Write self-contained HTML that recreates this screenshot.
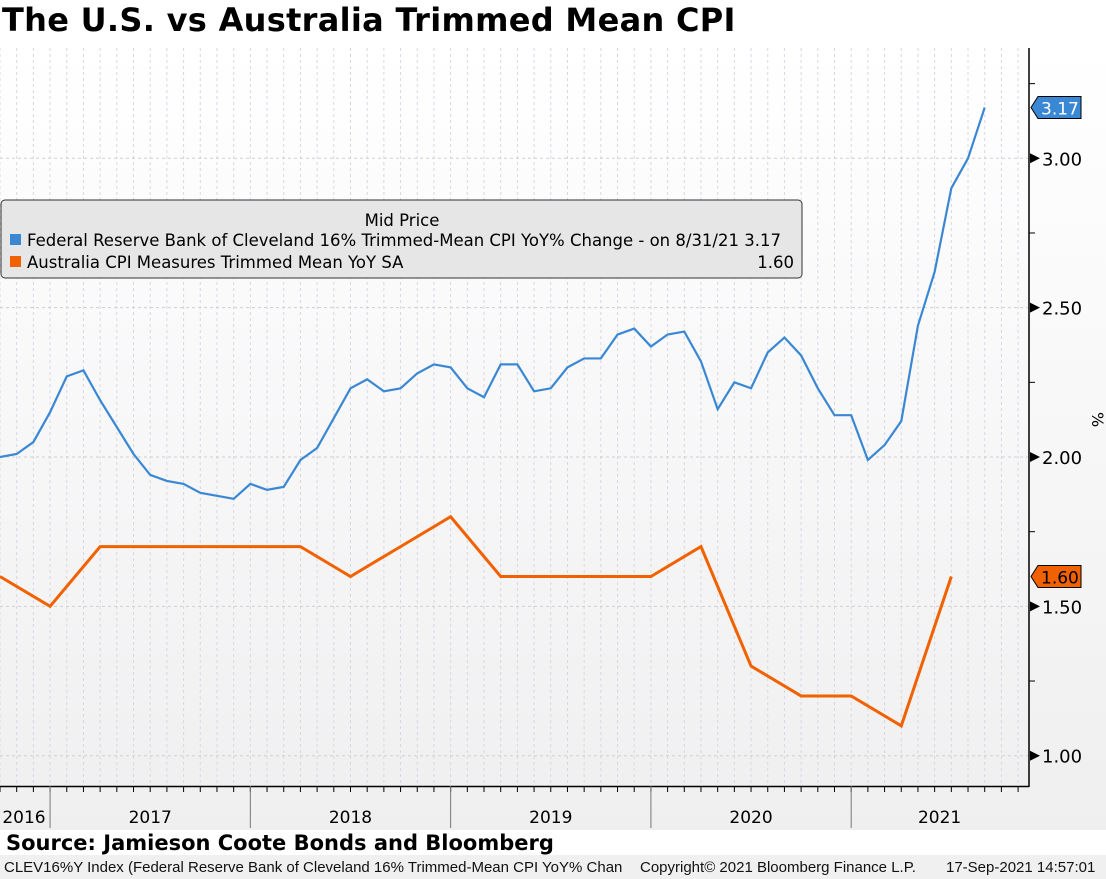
<!DOCTYPE html>
<html><head><meta charset="utf-8"><style>
body{margin:0;width:1106px;height:879px;overflow:hidden;background:#fff;font-family:"DejaVu Sans","Liberation Sans",sans-serif}
#title{position:absolute;left:2px;top:1px;font-size:32px;font-weight:bold;letter-spacing:0.3px}
#src{position:absolute;left:6px;top:831px;font-size:21px;font-weight:bold}
#foot{position:absolute;left:0;top:855px;width:1106px;height:24px;background:#f0f0f0;font-size:15px;color:#111;font-family:"Liberation Sans",sans-serif}
</style></head><body>
<div id="title">The U.S. vs Australia Trimmed Mean CPI</div>
<svg id="chart" width="1106" height="830" style="position:absolute;left:0;top:0">
<defs><linearGradient id="bg" x1="0" y1="0" x2="0" y2="1"><stop offset="0" stop-color="#ffffff"/><stop offset="1" stop-color="#efefef"/></linearGradient></defs>
<rect x="0" y="46" width="1106" height="784" fill="url(#bg)"/>
<g id="grid"></g><g id="axes"></g><g id="series"></g><g id="legend"></g>
</svg>
<div id="src">Source: Jamieson Coote Bonds and Bloomberg</div>
<div id="foot"><span style="position:absolute;left:4px;top:4px">CLEV16%Y Index (Federal Reserve Bank of Cleveland 16% Trimmed-Mean CPI YoY% Chan</span><span style="position:absolute;left:640px;top:4px">Copyright© 2021 Bloomberg Finance L.P.</span><span style="position:absolute;left:946px;top:4px">17-Sep-2021 14:57:01</span></div>
<script>
// monthly from Sep 2016 to Aug 2021
const usValues=[2.00,2.01,2.05,2.15,2.27,2.29,2.19,2.10,2.01,1.94,1.92,1.91,1.88,1.87,1.86,1.91,1.89,1.90,1.99,2.03,2.13,2.23,2.26,2.22,2.23,2.28,2.31,2.30,2.23,2.20,2.31,2.31,2.22,2.23,2.30,2.33,2.33,2.41,2.43,2.37,2.41,2.42,2.32,2.16,2.25,2.23,2.35,2.40,2.34,2.23,2.14,2.14,1.99,2.04,2.12,2.44,2.62,2.90,3.00,3.17];
// quarterly from Sep 2016 to Jun 2021
const auValues=[1.60,1.50,1.70,1.70,1.70,1.70,1.70,1.60,1.70,1.80,1.60,1.60,1.60,1.60,1.70,1.30,1.20,1.20,1.10,1.60];
const yTicks=[1.00,1.50,2.00,2.50,3.00];
const yearLabels=["2016","2017","2018","2019","2020","2021"];
const NS="http://www.w3.org/2000/svg";
const MW=16.69, X0=0;
function xM(m){return X0+m*MW;}
function yV(v){return 457-(v-2)*298.7;}
function mk(tag,attrs,parent){const e=document.createElementNS(NS,tag);for(const k in attrs)e.setAttribute(k,attrs[k]);parent.appendChild(e);return e;}
const grid=document.getElementById('grid'),axes=document.getElementById('axes'),series=document.getElementById('series'),legend=document.getElementById('legend');
for(let m=0;m<=61;m++){const x=xM(m);if(x>1028)break;mk('line',{x1:x,y1:48,x2:x,y2:786,stroke:'#d3d9e3','stroke-dasharray':'3,3','stroke-width':1},grid);}
yTicks.forEach(v=>{const y=yV(v);
const g=mk('line',{x1:0,y1:y,x2:1028,y2:y,stroke:'#cfcfcf','stroke-dasharray':'3,3'},grid);

mk('polygon',{points:`1030,${y-5} 1030,${y+5} 1040,${y}`,fill:'#000'},axes);
const t=mk('text',{x:1042,y:y+7,'font-size':18,fill:'#000'},axes);t.textContent=v.toFixed(2);

const mv=v+0.25; if(mv<3.3){const my=yV(mv);mk('line',{x1:1029,y1:my,x2:1035,y2:my,stroke:'#000'},axes);}
});
mk('line',{x1:1029,y1:48,x2:1029,y2:787,stroke:'#000','stroke-width':1.5},axes);
mk('line',{x1:0,y1:786.5,x2:1029,y2:786.5,stroke:'#000','stroke-width':1.5},axes);
for(let m=0;m<=61;m++){const x=xM(m);if(x>1028)break;mk('line',{x1:x,y1:786,x2:x,y2:792,stroke:'#000'},axes);}
yearLabels.forEach((yr,i)=>{
const start=xM(3+12*(i-1)), end=xM(3+12*i);
if(i>0) mk('line',{x1:start,y1:786,x2:start,y2:828,stroke:'#777'},axes);
const cx=i==0?24:(start+Math.min(end,1028))/2;
const t=mk('text',{x:cx,y:823,'font-size':17,'text-anchor':'middle',fill:'#000'},axes);t.textContent=yr;

});
const us=mk('polyline',{points:usValues.map((v,i)=>xM(i)+','+yV(v)).join(' '),fill:'none',stroke:'#3a87d4','stroke-width':2.2},series);

const au=mk('polyline',{points:auValues.map((v,i)=>xM(i*3)+','+yV(v)).join(' '),fill:'none',stroke:'#f26100','stroke-width':3},series);

function tag(v,fill,tc,name){const y=yV(v);
const g=mk('g',{},axes);
mk('polygon',{points:`1031,${y} 1038,${y-11} 1081,${y-11} 1081,${y+11} 1038,${y+11}`,fill:fill,stroke:'#000'},g);
const t=mk('text',{x:1041,y:y+7,'font-size':17,fill:tc},g);t.textContent=v.toFixed(2);}
tag(usValues[usValues.length-1],'#3a87d4','#fff','us-last-value-tag');
tag(auValues[auValues.length-1],'#f26100','#000','au-last-value-tag');
// legend
const lg=mk('g',{},legend);
mk('rect',{x:1,y:200,width:801,height:78,rx:4,fill:'#e6e6e6',stroke:'#333'},lg);
const h=mk('text',{x:402,y:226,'font-size':16.5,'text-anchor':'middle'},lg);h.textContent='Mid Price';
mk('rect',{x:10,y:234,width:11,height:11,fill:'#3a87d4'},lg);
const l1=mk('text',{x:27,y:246,'font-size':16.5},lg);l1.textContent='Federal Reserve Bank of Cleveland 16% Trimmed-Mean CPI YoY% Change -   on 8/31/21 3.17';

mk('rect',{x:10,y:256,width:11,height:11,fill:'#f26100'},lg);
const l2=mk('text',{x:27,y:268,'font-size':16.5},lg);l2.textContent='Australia CPI Measures Trimmed Mean YoY SA';

const l3=mk('text',{x:794,y:268,'font-size':16.5,'text-anchor':'end'},lg);l3.textContent='1.60';
const pc=mk('text',{x:0,y:0,'font-size':16,transform:'translate(1092,412) rotate(90)'},axes);pc.textContent='%';
</script>
</body></html>
